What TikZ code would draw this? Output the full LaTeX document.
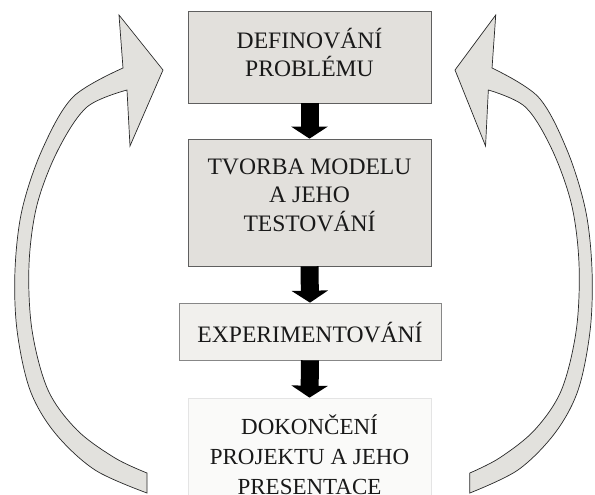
\documentclass[tikz,border=0pt]{standalone}
\usepackage{fontspec}
\setmainfont{Liberation Serif}
\usetikzlibrary{arrows.meta}

\definecolor{boxfill}{RGB}{226,224,220}
\definecolor{boxline}{RGB}{95,95,95}
\definecolor{expfill}{RGB}{241,240,237}
\definecolor{expline}{RGB}{135,135,135}
\definecolor{endfill}{RGB}{250,250,249}
\definecolor{endline}{RGB}{228,228,228}
\definecolor{bandfill}{RGB}{226,225,221}
\definecolor{bandline}{RGB}{40,40,40}

\tikzset{
  stagebox/.style={rectangle, draw=boxline, fill=boxfill, line width=0.7pt,
    minimum width=243pt, inner sep=0pt},
  % anchored at the baseline of the last line
  stagetext/.style={anchor=base, inner sep=0pt, align=center,
    font=\fontsize{23.6}{28.5}\selectfont, text=black!90},
  blockarrow/.style={line width=18pt, black,
    -{Triangle[width=36pt,length=12pt]}},
  arrowband/.style={fill=bandfill, draw=bandline, line width=0.7pt, line join=miter},
  loop arrow/.pic={
    \filldraw[arrowband]
      plot[smooth, tension=0.55] coordinates {(147,493) (95,470) (55,433) (30,390)
        (17,330) (15,270) (22,210) (42,150) (73,97) (123,68)}
      -- (119,15) -- (163,70) -- (130,146) -- (127,90)
      -- plot[smooth, tension=0.55] coordinates {(127,90) (87,107) (58,150) (37,205)
        (29,265) (32,330) (48,390) (77,430) (115,458) (147,473)}
      -- cycle;
  }
}

\begin{document}
\begin{tikzpicture}[x=1pt, y=-1pt]
  \useasboundingbox (0,0) rectangle (595,495);
  \clip (0,0) rectangle (595,495);

  % return arrows on both sides (the right one slightly narrower)
  \pic at (0,0) {loop arrow};
  \pic[xscale=-0.9257] at (605.9,0) {loop arrow};

  % stages
  \node[stagebox, minimum height=92pt] (b1) at (309.5,57) {};
  \node[stagebox, minimum height=127pt] (b2) at (309.5,202.5) {};
  \node[stagebox, draw=expline, fill=expfill, minimum width=262pt,
        minimum height=57pt] (b3) at (310,331.5) {};
  \node[stagebox, draw=endline, fill=endfill, minimum height=124pt] (b4) at (309.5,460) {};

  \node[stagetext] (t1) at (309.5,77) {DEFINOVÁNÍ\\PROBLÉMU};
  \node[stagetext] (t2) at (309.5,231) {TVORBA MODELU\\A JEHO\\TESTOVÁNÍ};
  \node[stagetext] (t3) at (310,342) {EXPERIMENTOVÁNÍ};
  \node[stagetext, font=\fontsize{23}{30}\selectfont] (t4) at (309.5,494) {DOKONČENÍ\\PROJEKTU A JEHO\\PRESENTACE};

  % flow between stages
  \draw[blockarrow] (b1.south) -- (b2.north);
  \draw[blockarrow] (b2.south) -- (b3.north);
  \draw[blockarrow] (b3.south) -- (b4.north);
\end{tikzpicture}
\end{document}
